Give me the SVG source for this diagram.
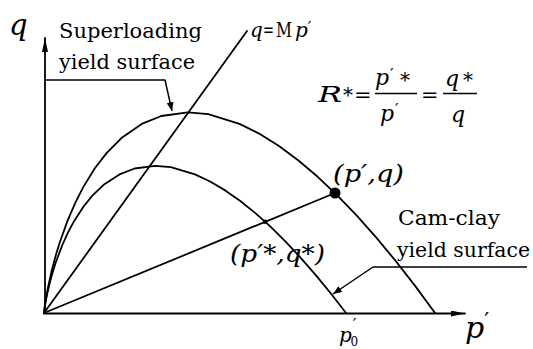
<svg xmlns="http://www.w3.org/2000/svg" width="533" height="349" viewBox="0 0 533 349" font-size="20">
<style>
.t { font-family: "DejaVu Serif", serif; fill: #000; }
.i { font-style: italic; }
.n { font-style: normal; }
.ln { fill: none; stroke: #000; stroke-width: 1.8; stroke-linejoin: round; stroke-linecap: round; }
.ld { fill: none; stroke: #000; stroke-width: 1.5; stroke-linejoin: round; }
</style>
<defs>
<marker id="ah" viewBox="0 0 10 8" refX="10" refY="4" markerWidth="10" markerHeight="7" orient="auto" markerUnits="userSpaceOnUse"><path d="M0,0 L10,4 L0,8 z" fill="#000"/></marker>
<marker id="ax" viewBox="0 0 14 6" refX="14" refY="3" markerWidth="14" markerHeight="6" orient="auto" markerUnits="userSpaceOnUse"><path d="M0,0 L14,3 L0,6 z" fill="#000"/></marker>
</defs>
<rect width="533" height="349" fill="#fff"/>

<g id="axes">
<line class="ln" x1="45" y1="313" x2="45" y2="38" marker-end="url(#ax)"/>
<line class="ln" x1="44" y1="313.5" x2="465" y2="313.5" marker-end="url(#ax)"/>
<text class="t i" x="9" y="35" font-size="29">q</text>
<text class="t i" x="465" y="338" font-size="30">p<tspan class="n" font-size="22" dx="0" dy="-10">′</tspan></text>
<text class="t i" x="339" y="342" font-size="20">p<tspan class="n" font-size="16" dx="1" dy="-12">′</tspan><tspan class="n" font-size="12" dx="-6" dy="16">0</tspan></text>
</g>

<g id="superloading-surface">
<path class="ln" d="M44,313 L44.78,306.2 L45.96,298.5 L47.91,287.9 L51.82,270.3 L55.73,255.6 L59.64,242.7 L67.46,220.9 L75.28,202.8 L83.1,187.4 L94.83,168.3 L106.56,153.1 L122.2,137.4 L141.75,123.9 L161.3,116 L187.85,112.3 L208.2,114.2 L239.5,123.9 L259.05,133.6 L278.6,145.8 L298.15,160.3 L317.7,176.8 L337.25,195.3 L356.8,215.6 L376.35,237.6 L395.9,261.3 L415.5,286.4 L435,313"/>
<text class="t" x="59" y="38" font-size="20" textLength="143" lengthAdjust="spacingAndGlyphs">Superloading</text>
<text class="t" x="59" y="69" font-size="20" textLength="136" lengthAdjust="spacingAndGlyphs">yield surface</text>
</g>

<g id="camclay-surface">
<path class="ln" d="M44,313 L44.6,308 L45.51,302.4 L47.02,294.6 L50.04,281.7 L53.06,270.9 L56.08,261.5 L62.12,245.5 L68.16,232.2 L74.2,220.9 L83.26,206.9 L92.32,195.7 L104.4,184.2 L119.5,174.4 L134.6,168.5 L155.1,165.8 L170.84,167.2 L195,174.4 L210.1,181.5 L225.2,190.4 L240.3,201 L255.4,213.1 L270.5,226.7 L285.6,241.6 L300.7,257.8 L315.8,275.1 L330.9,293.5 L346,313"/>
<text class="t" x="398" y="225" font-size="21" textLength="102" lengthAdjust="spacingAndGlyphs">Cam-clay</text>
<text class="t" x="397" y="257" font-size="20" textLength="133" lengthAdjust="spacingAndGlyphs">yield surface</text>
</g>

<g id="csl">
<line class="ln" x1="44" y1="313" x2="247" y2="31"/>
<text class="t i" x="250" y="37" font-size="20">q</text>
<text class="t" x="263" y="37" font-size="20" textLength="11" lengthAdjust="spacingAndGlyphs">=</text>
<text class="t" x="276" y="37" font-size="20" textLength="16" lengthAdjust="spacingAndGlyphs">M</text>
<text class="t i" x="295" y="37" font-size="20">p<tspan class="n" font-size="16" dy="-4">′</tspan></text>
</g>

<g id="point-current">
<circle cx="335" cy="193" r="5.5" fill="#000"/>
<text class="t i" x="333" y="182" font-size="25" textLength="71" lengthAdjust="spacingAndGlyphs">(p′,q)</text>
</g>

<g id="point-star">
<circle cx="265.2" cy="221.8" r="2.3" fill="#000"/>
<text class="t i" x="230" y="262" font-size="25" textLength="95" lengthAdjust="spacingAndGlyphs">(p′*,q*)</text>
</g>

<g id="connectors">
<line class="ln" x1="44" y1="313" x2="335" y2="193"/>
<polyline class="ld" points="46,80 165,80 172,111" marker-end="url(#ah)"/>
<polyline class="ld" points="527,267 373,267 333,294" marker-end="url(#ah)"/>
</g>

<g id="formula">
<text class="t i" x="318" y="102" font-size="22" textLength="24" lengthAdjust="spacingAndGlyphs">R</text>
<text class="t" x="343" y="102" font-size="20">*</text>
<text class="t" x="354" y="102" font-size="21">=</text>
<text class="t i" x="375" y="85" font-size="22">p</text>
<text class="t" x="390" y="80" font-size="16">′</text>
<text class="t" x="400" y="87" font-size="20">*</text>
<line x1="375" y1="93.5" x2="417" y2="93.5" stroke="#000" stroke-width="1.5"/>
<text class="t i" x="380" y="121" font-size="22">p</text>
<text class="t" x="395" y="115" font-size="16">′</text>
<text class="t" x="421" y="102" font-size="21">=</text>
<text class="t i" x="445" y="86" font-size="22">q</text>
<text class="t" x="463" y="87" font-size="20">*</text>
<line x1="443" y1="93.5" x2="477" y2="93.5" stroke="#000" stroke-width="1.5"/>
<text class="t i" x="451" y="122" font-size="22">q</text>
</g>
</svg>
